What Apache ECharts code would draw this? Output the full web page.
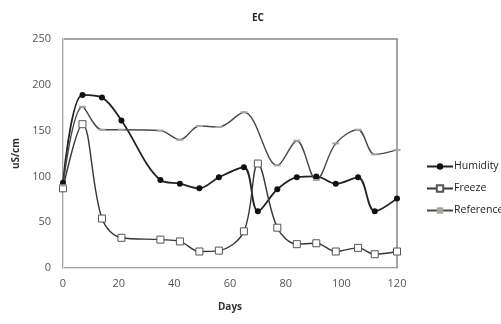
<!DOCTYPE html>
<html>
<head>
<meta charset="utf-8">
<script src="https://cdn.jsdelivr.net/npm/echarts@6/dist/echarts.min.js"></script>
<style>
  html, body { margin: 0; padding: 0; background: #fff; }
  #main { width: 501px; height: 324px; }
</style>
</head>
<body>
<div id="main"></div>
<script>
// days sampled for each series
var days = [0, 7, 14, 21, 35, 42, 49, 56, 65, 70, 77, 84, 91, 98, 106, 112, 120];
var humidity  = [93, 189, 186, 161, 96, 92, 87, 99, 110, 62, 86, 99, 100, 92, 99, 62, 76];
var freeze    = [87, 157, 54, 33, 31, 29, 18, 19, 40, 114, 44, 26, 27, 18, 22, 15, 18];
// no reading for the reference on day 70
var reference = [90, 176, 151, 151, 150, 140, 155, 154, 170, null, 112, 139, 96, 136, 151, 124, 129];

function pairs(vals) {
  return vals.map(function (v, i) { return [days[i], v]; });
}

var chart = echarts.init(document.getElementById('main'));
chart.setOption({
  animation: false,
  backgroundColor: '#ffffff',
  textStyle: { fontFamily: 'Open Sans' },
  title: {
    text: 'EC',
    left: 253, top: 8,
    textAlign: 'center',
    textStyle: { fontSize: 10, fontWeight: 'bold', color: '#222' }
  },
  grid: {
    left: 63, right: 104, top: 39, bottom: 56,
    show: true, borderColor: '#8a857f', borderWidth: 1.5
  },
  legend: {
    orient: 'vertical',
    left: 421, top: 156,
    itemWidth: 26, itemHeight: 8, itemGap: 11,
    textStyle: { fontSize: 10.5, color: '#222', padding: [0, 0, 0, -4] },
    data: ['Humidity', 'Freeze', 'Reference']
  },
  xAxis: {
    type: 'value', min: 0, max: 120, interval: 20,
    name: 'Days', nameLocation: 'middle', nameGap: 34,
    nameTextStyle: { fontSize: 10, fontWeight: 'bold', color: '#333' },
    axisLine: { show: true, lineStyle: { color: '#e2dfdc', width: 1 } },
    axisTick: { show: false },
    splitLine: { show: false },
    axisLabel: { fontSize: 11, color: '#555', margin: 10 }
  },
  yAxis: {
    type: 'value', min: 0, max: 250, interval: 50,
    name: 'uS/cm', nameLocation: 'middle', nameGap: 38,
    nameTextStyle: { fontSize: 10, fontWeight: 'bold', color: '#333' },
    axisLine: { show: true, lineStyle: { color: '#e2dfdc', width: 1 } },
    axisTick: { show: false },
    splitLine: { show: false },
    axisLabel: { fontSize: 11, color: '#555', margin: 12 }
  },
  series: [
    {
      name: 'Humidity', type: 'line', smooth: 0.35,
      data: pairs(humidity),
      symbol: 'circle', symbolSize: 6,
      itemStyle: { color: '#111' },
      lineStyle: { color: '#222', width: 1.8 }
    },
    {
      name: 'Freeze', type: 'line', smooth: 0.35,
      data: pairs(freeze),
      symbol: 'rect', symbolSize: 7,
      itemStyle: { color: '#fff', borderColor: '#555', borderWidth: 1 },
      lineStyle: { color: '#3a3633', width: 1.4 }
    },
    {
      name: 'Reference', type: 'line', smooth: 0.35, connectNulls: true,
      data: pairs(reference),
      symbol: 'rect', symbolSize: [7, 2],
      itemStyle: { color: '#aaa59f' },
      lineStyle: { color: '#4d4844', width: 1.4 }
    }
  ]
});
</script>
</body>
</html>
